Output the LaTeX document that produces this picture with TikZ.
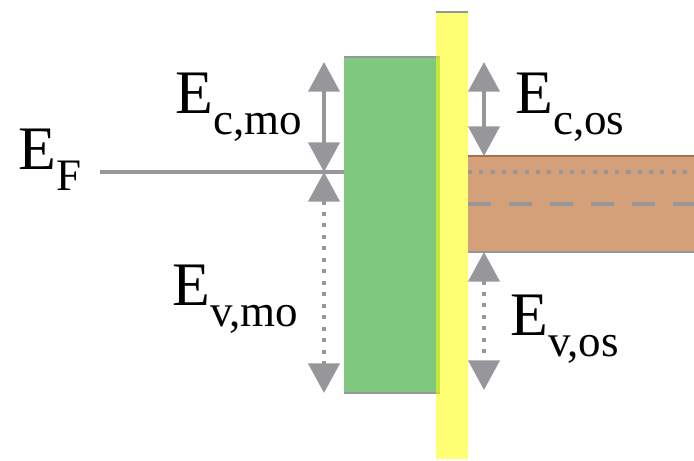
\documentclass[tikz,border=0pt]{standalone}
\usepackage{fontspec}
\setmainfont{Liberation Serif}
\usetikzlibrary{arrows.meta}
\definecolor{band}{RGB}{150,150,155}
\definecolor{metal}{RGB}{127,200,127}
\definecolor{oxide}{RGB}{212,160,122}
\definecolor{oxedge}{RGB}{170,110,75}
\definecolor{barrier}{RGB}{255,255,0}
\newcommand{\lvl}[1]{E{\fontsize{32}{32}\selectfont\raisebox{-15.6pt}{#1}}}
\tikzset{
  gap/.style={{Triangle[width=22pt,length=21pt]}-{Triangle[width=22pt,length=21pt]},line width=2.8pt,draw=band},
  gapdot/.style={gap,dash pattern=on 2.85pt off 5.3pt},
  lbl/.style={anchor=base west,inner sep=0pt,font=\fontsize{44}{44}\selectfont},
  rim/.style={draw=band,line width=1.4pt},
}
\begin{document}
\begin{tikzpicture}[x=0.025cm,y=-0.025cm]
\useasboundingbox (0,0) rectangle (694,460);
% --- metal ---
\fill[metal] (344,57) rectangle (440,393);
\draw[rim] (344,57) -- (440,57);
\draw[rim] (344,393) -- (440,393);
% --- oxide semiconductor ---
\fill[oxide] (468,156) rectangle (694,252);
\draw[oxedge,line width=1.4pt] (468,156) -- (694,156);
\draw[rim] (468,252) -- (694,252);
\draw[band,line width=2.8pt,dash pattern=on 2.85pt off 5.2pt] (468,172) -- (694,172);
\draw[band,line width=3.4pt,dash pattern=on 16.4pt off 12.8pt] (468,204) -- (694,204);
% Fermi level
\draw[band,line width=2.6pt] (100,172) -- (344,172);
% --- barrier ---
\fill[barrier,opacity=0.55] (436,12) rectangle (468,459);
\draw[rim] (436,12) -- (468,12);
% --- offsets ---
\coordinate (cmoT) at (324,62);
\coordinate (F) at (324,172);
\coordinate (vmoB) at (324,393);
\coordinate (cosT) at (484,62);
\coordinate (cosB) at (484,156);
\coordinate (vosT) at (484,252);
\coordinate (vosB) at (484,390);
\draw[gap] (cmoT) -- (F);
\draw[gapdot] (F) -- (vmoB);
\draw[gap] (cosT) -- (cosB);
\draw[gapdot] (vosT) -- (vosB);
% Labels
\node[lbl] (EF) at (18,169) {\lvl{F}};
\node[lbl] (Ecmo) at (175,113) {\lvl{c,mo}};
\node[lbl] (Ecos) at (515,113) {\lvl{c,os}};
\node[lbl] (Evmo) at (172,305) {\lvl{v,mo}};
\node[lbl] (Evos) at (510,335) {\lvl{v,os}};
\end{tikzpicture}
\end{document}
